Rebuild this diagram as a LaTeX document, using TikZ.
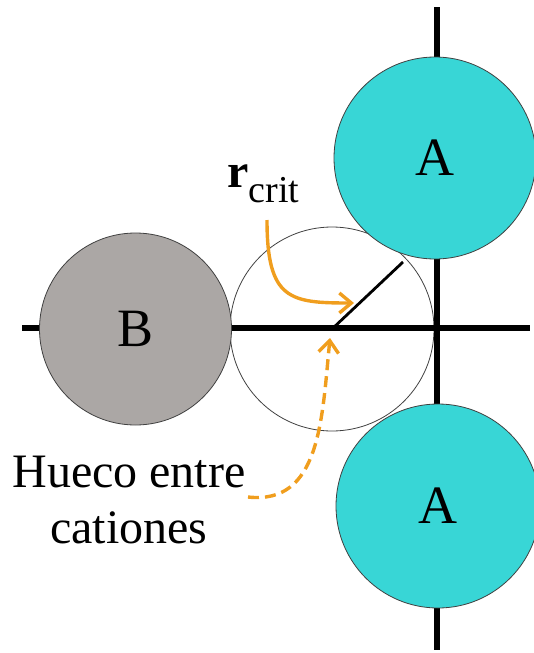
\documentclass[tikz,border=0pt]{standalone}
\usepackage{fontspec}
\setmainfont{Liberation Serif}
\usetikzlibrary{arrows.meta,calc}
\definecolor{atomA}{RGB}{56,214,214}
\definecolor{atomB}{RGB}{171,167,165}
\definecolor{arrowor}{RGB}{240,158,30}
\begin{document}
\begin{tikzpicture}[x=1pt,y=-1pt,
  ball/.style={circle,draw=black!75,line width=0.8pt,inner sep=0pt,minimum size=#1},
  axis/.style={line width=5.5pt},
  balltext/.style={font=\fontsize{54}{54}\selectfont},
  labeltext/.style={font=\fontsize{48}{56}\selectfont,align=center},
  orangearrow/.style={draw=arrowor,line width=3.4pt,-{Straight Barb[length=12pt,width=20pt]}},
  dashedarrow/.style={orangearrow,dash pattern=on 11pt off 6pt}]
\useasboundingbox (0,0) rectangle (533,653);
% interstitial hole
\node[ball=204pt] (hole) at (332,329) {};
% axes
\coordinate (L) at (22,328);
\coordinate (R) at (530,328);
\coordinate (T) at (437,7);
\coordinate (Bt) at (437,650);
\draw[axis] (L) -- (R);
\draw[axis] (T) -- (Bt);
% radius
\coordinate (rend) at (403,262);
\draw[line width=2.8pt] (hole.center) -- (rend);
% atoms
\node[ball=202pt,fill=atomA,balltext] (A1) at (435,158) {A};
\node[ball=204pt,fill=atomA,balltext] (A2) at (438,506) {A};
\node[ball=192pt,fill=atomB,balltext] (B) at (135.5,329) {B};
% labels
\node[anchor=base west,inner sep=0pt] (rcrit) at (227,187)
  {\fontsize{48}{48}\selectfont\textbf{r}\raisebox{-15pt}{\fontsize{38}{38}\selectfont crit}};
\node[labeltext,anchor=base,inner sep=0pt] (hueco) at (129,543) {Hueco entre\\cationes};
% arrows
\coordinate (s1) at (267,220);
\coordinate (t1) at (354,303);
\draw[orangearrow] (s1) .. controls (267,300) and (290,303) .. (t1);
\coordinate (s2) at (248,497);
\coordinate (t2) at (330,338);
\draw[dashedarrow] (s2) .. controls (320,505) and (322,420) .. (t2);
\end{tikzpicture}
\end{document}
